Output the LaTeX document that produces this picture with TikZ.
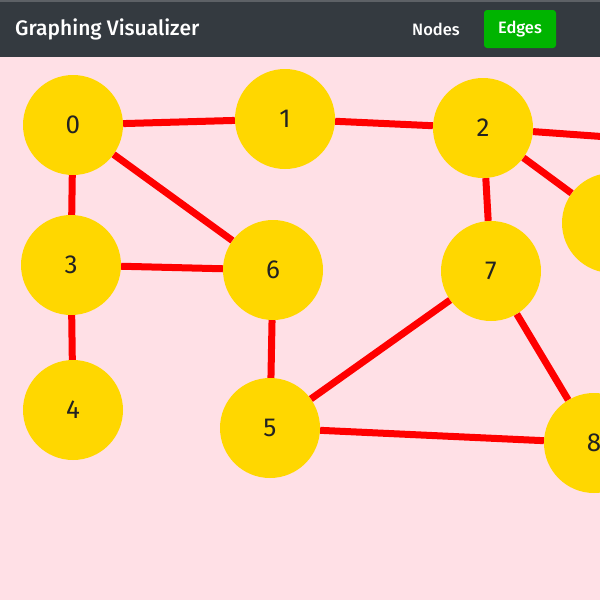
\documentclass[tikz,border=0pt]{standalone}
\usepackage{fontspec}
\setmainfont{Fira Sans}
\newfontfamily\titlefont{Fira Sans Medium}
\definecolor{bgpink}{RGB}{255,224,230}
\definecolor{hdr}{RGB}{52,58,64}
\definecolor{btngreen}{RGB}{0,180,0}
\definecolor{gold}{RGB}{255,215,0}
\definecolor{edgered}{RGB}{255,0,0}
\definecolor{ink}{RGB}{34,34,34}
\begin{document}
\begin{tikzpicture}[x=1pt,y=-1pt,
  gnode/.style={circle,fill=gold,minimum size=100pt,inner sep=0pt,text=ink,font=\fontsize{26}{26}\selectfont},
  gedge/.style={draw=edgered,line width=7pt},
  hdrtext/.style={text=white,font=\titlefont\fontsize{16.5}{16.5}\selectfont,inner sep=0pt}]
\useasboundingbox (0,0) rectangle (600,600);
\clip (0,0) rectangle (600,600);
\fill[bgpink] (0,0) rectangle (600,600);
% nodes
\node[gnode] (n0) at (73,125) {0};
\node[gnode] (n1) at (285,119) {1};
\node[gnode] (n2) at (483,128) {2};
\node[gnode] (n3) at (71,265) {3};
\node[gnode] (n4) at (73,410) {4};
\node[gnode] (n5) at (270,428) {5};
\node[gnode] (n6) at (273,270) {6};
\node[gnode] (n7) at (491,271) {7};
\node[gnode] (n8) at (594,443) {8};
\node[gnode] (n10) at (612,223) {10};
\coordinate (off) at (720,145);
% edges
\draw[gedge] (n0) -- (n1);
\draw[gedge] (n1) -- (n2);
\draw[gedge] (n2) -- (off);
\draw[gedge] (n2) -- (n10);
\draw[gedge] (n2) -- (n7);
\draw[gedge] (n0) -- (n3);
\draw[gedge] (n0) -- (n6);
\draw[gedge] (n3) -- (n6);
\draw[gedge] (n3) -- (n4);
\draw[gedge] (n6) -- (n5);
\draw[gedge] (n7) -- (n5);
\draw[gedge] (n7) -- (n8);
\draw[gedge] (n5) -- (n8);
% header
\fill[hdr] (0,0) rectangle (600,57);
\fill[hdr!80!white] (0,0) rectangle (600,2);
\node[anchor=west,text=white,inner sep=0pt,font=\titlefont\fontsize{21}{21}\selectfont] (title) at (15,29) {Graphing Visualizer};
\node[hdrtext] (nodesbtn) at (436,29) {Nodes};
\node[fill=btngreen,rounded corners=3pt,minimum width=72pt,minimum height=38pt,text=white,font=\titlefont\fontsize{16.5}{16.5}\selectfont] (edgesbtn) at (520,29) {Edges};
\end{tikzpicture}
\end{document}
